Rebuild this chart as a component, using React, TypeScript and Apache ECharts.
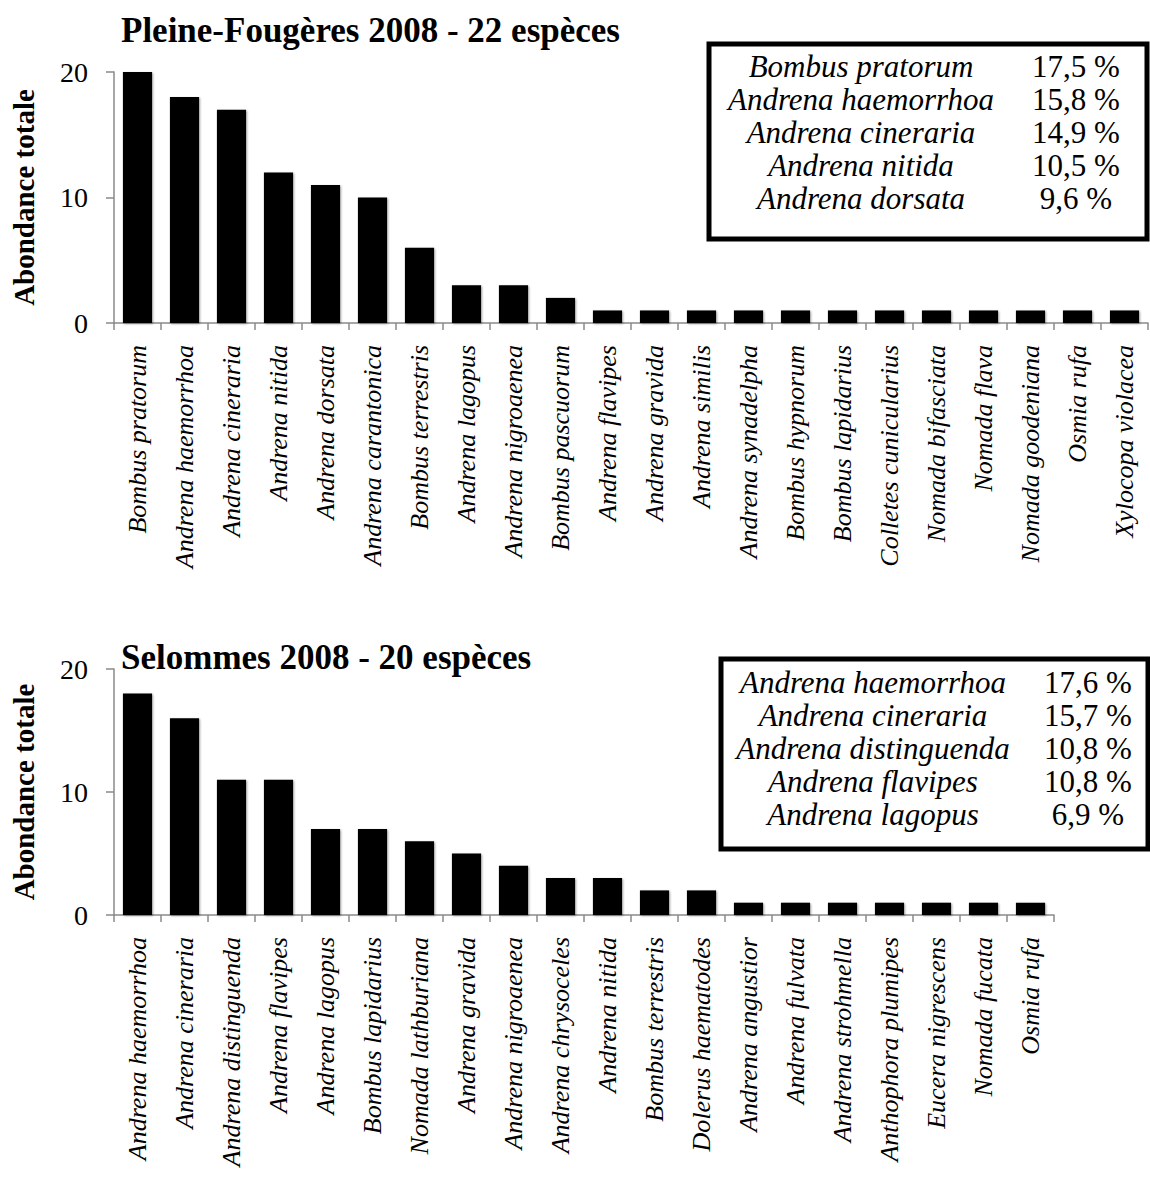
import React, { useEffect, useRef } from "react";
import * as echarts from "echarts";

const topTitle = "Pleine-Fougères 2008 - 22 espèces";
const topSpecies = [
  "Bombus pratorum", "Andrena haemorrhoa", "Andrena cineraria", "Andrena nitida",
  "Andrena dorsata", "Andrena carantonica", "Bombus terrestris", "Andrena lagopus",
  "Andrena nigroaenea", "Bombus pascuorum", "Andrena flavipes", "Andrena gravida",
  "Andrena similis", "Andrena synadelpha", "Bombus hypnorum", "Bombus lapidarius",
  "Colletes cunicularius", "Nomada bifasciata", "Nomada flava", "Nomada goodeniana",
  "Osmia rufa", "Xylocopa violacea",
];
const topValues = [20, 18, 17, 12, 11, 10, 6, 3, 3, 2, 1, 1, 1, 1, 1, 1, 1, 1, 1, 1, 1, 1];
const topLegendNames = ["Bombus pratorum", "Andrena haemorrhoa", "Andrena cineraria", "Andrena nitida", "Andrena dorsata"];
const topLegendPct = ["17,5 %", "15,8 %", "14,9 %", "10,5 %", "9,6 %"];

const botTitle = "Selommes 2008 - 20 espèces";
const botSpecies = [
  "Andrena haemorrhoa", "Andrena cineraria", "Andrena distinguenda", "Andrena flavipes",
  "Andrena lagopus", "Bombus lapidarius", "Nomada lathburiana", "Andrena gravida",
  "Andrena nigroaenea", "Andrena chrysoceles", "Andrena nitida", "Bombus terrestris",
  "Dolerus haematodes", "Andrena angustior", "Andrena fulvata", "Andrena strohmella",
  "Anthophora plumipes", "Eucera nigrescens", "Nomada fucata", "Osmia rufa",
];
const botValues = [18, 16, 11, 11, 7, 7, 6, 5, 4, 3, 3, 2, 2, 1, 1, 1, 1, 1, 1, 1];
const botLegendNames = ["Andrena haemorrhoa", "Andrena cineraria", "Andrena distinguenda", "Andrena flavipes", "Andrena lagopus"];
const botLegendPct = ["17,6 %", "15,7 %", "10,8 %", "10,8 %", "6,9 %"];

const yTicks = { min: 0, max: 20, interval: 10 };
const yName = "Abondance totale";

const SERIF = "Liberation Serif";
const AXIS_GRAY = "#8a8a8a";

function legendGraphics(
  box: { x: number; y: number; w: number; h: number },
  names: string[],
  pcts: string[],
  rowY: number[],
  nameX: number,
  pctX: number
) {
  const els: any[] = [
    {
      type: "rect",
      shape: { x: box.x, y: box.y, width: box.w, height: box.h },
      style: { fill: "#fff", stroke: "#000", lineWidth: 5 },
      z: 10,
    },
  ];
  names.forEach((n, i) => {
    els.push({
      type: "text",
      x: nameX,
      y: rowY[i],
      z: 11,
      style: {
        text: n,
        fontFamily: SERIF,
        fontStyle: "italic",
        fontSize: 31,
        lineHeight: 29,
        fill: "#000",
        align: "center",
        verticalAlign: "middle",
      },
    });
    els.push({
      type: "text",
      x: pctX,
      y: rowY[i],
      z: 11,
      style: {
        text: pcts[i],
        fontFamily: SERIF,
        fontSize: 31,
        lineHeight: 29,
        fill: "#000",
        align: "center",
        verticalAlign: "middle",
      },
    });
  });
  return els;
}

export default function App() {
  const ref = useRef<HTMLDivElement>(null);
  useEffect(() => {
    if (!ref.current) return;
    const chart = echarts.init(ref.current, null, { renderer: "svg" });
    const xAxisCommon = (data: string[], gridIndex: number) => ({
      type: "category",
      gridIndex,
      data,
      axisLine: { show: true, lineStyle: { color: AXIS_GRAY, width: 1.5 } },
      axisTick: { show: true, length: 7, lineStyle: { color: AXIS_GRAY, width: 1.5 } },
      axisLabel: {
        interval: 0,
        rotate: 90,
        margin: 22,
        color: "#000",
        fontFamily: SERIF,
        fontStyle: "italic",
        fontSize: 26,
      },
    });
    const yAxisCommon = (gridIndex: number) => ({
      type: "value",
      gridIndex,
      min: yTicks.min,
      max: yTicks.max,
      interval: yTicks.interval,
      name: yName,
      nameLocation: "middle",
      nameGap: 76,
      nameRotate: 90,
      nameTextStyle: { fontFamily: SERIF, fontWeight: "bold", fontSize: 29, color: "#000" },
      splitLine: { show: false },
      axisLine: { show: true, lineStyle: { color: AXIS_GRAY, width: 1.5 } },
      axisTick: { show: true, length: 8, lineStyle: { color: AXIS_GRAY, width: 1.5 } },
      axisLabel: { margin: 26, color: "#000", fontFamily: SERIF, fontSize: 28 },
    });
    const barStyle = {
      color: "#000",
      shadowColor: "rgba(0,0,0,0.35)",
      shadowBlur: 2,
      shadowOffsetX: 1,
      shadowOffsetY: 1,
    };
    const titleStyle = (text: string) => ({
      text,
      fontFamily: SERIF,
      fontWeight: "bold",
      fontSize: 35,
      fill: "#000",
      align: "left",
      verticalAlign: "middle",
    });
    chart.setOption({
      animation: false,
      backgroundColor: "#fff",
      grid: [
        { left: 114, top: 72, width: 22 * 47, height: 251 },
        { left: 114, top: 669, width: 20 * 47, height: 246 },
      ],
      xAxis: [xAxisCommon(topSpecies, 0), xAxisCommon(botSpecies, 1)],
      yAxis: [yAxisCommon(0), yAxisCommon(1)],
      series: [
        { type: "bar", xAxisIndex: 0, yAxisIndex: 0, data: topValues, barCategoryGap: "38%", itemStyle: barStyle },
        { type: "bar", xAxisIndex: 1, yAxisIndex: 1, data: botValues, barCategoryGap: "38%", itemStyle: barStyle },
      ],
      graphic: [
        { type: "text", x: 121, y: 30, style: titleStyle(topTitle) },
        { type: "text", x: 121, y: 657, style: titleStyle(botTitle) },
        ...legendGraphics({ x: 709, y: 44, w: 438, h: 195 }, topLegendNames, topLegendPct, [66, 99, 132, 165, 198], 861, 1076),
        ...legendGraphics({ x: 721, y: 659, w: 427, h: 190 }, botLegendNames, botLegendPct, [682, 715, 748, 781, 814], 873, 1088),
      ],
    });
    return () => chart.dispose();
  }, []);
  return (
    <div
      ref={ref}
      style={{ position: "absolute", left: 0, top: 0, width: 1150, height: 1181, background: "#fff" }}
    />
  );
}
